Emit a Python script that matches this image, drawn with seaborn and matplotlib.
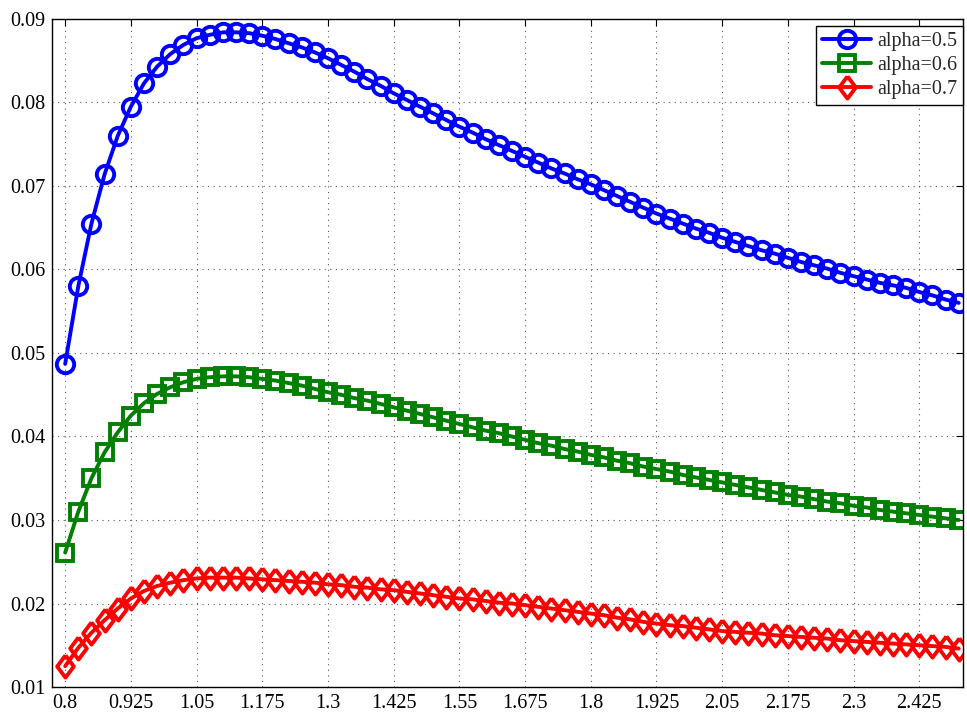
import matplotlib
matplotlib.use("Agg")
import matplotlib.pyplot as plt
import seaborn as sns

x = [0.8, 0.825, 0.85, 0.875, 0.9, 0.925, 0.95, 0.975, 1.0, 1.025,
     1.05, 1.075, 1.1, 1.125, 1.15, 1.175, 1.2, 1.225, 1.25, 1.275,
     1.3, 1.325, 1.35, 1.375, 1.4, 1.425, 1.45, 1.475, 1.5, 1.525,
     1.55, 1.575, 1.6, 1.625, 1.65, 1.675, 1.7, 1.725, 1.75, 1.775,
     1.8, 1.825, 1.85, 1.875, 1.9, 1.925, 1.95, 1.975, 2.0, 2.025,
     2.05, 2.075, 2.1, 2.125, 2.15, 2.175, 2.2, 2.225, 2.25, 2.275,
     2.3, 2.325, 2.35, 2.375, 2.4, 2.425, 2.45, 2.475, 2.5]

alpha_05 = [0.0487, 0.0580, 0.0655, 0.0714, 0.0760, 0.0795, 0.0823, 0.0843, 0.0858, 0.0869,
            0.0877, 0.0881, 0.0884, 0.0884, 0.0883, 0.0880, 0.0876, 0.0871, 0.0866, 0.0860,
            0.0853, 0.0845, 0.0837, 0.0828, 0.0820, 0.0811, 0.0803, 0.0795, 0.0787, 0.0779,
            0.0771, 0.0764, 0.0756, 0.0749, 0.0742, 0.0735, 0.0728, 0.0721, 0.0715, 0.0708,
            0.0702, 0.0695, 0.0688, 0.0681, 0.0674, 0.0667, 0.0661, 0.0655, 0.0649, 0.0644,
            0.0638, 0.0633, 0.0628, 0.0623, 0.0619, 0.0614, 0.0609, 0.0605, 0.0601, 0.0596,
            0.0592, 0.0588, 0.0584, 0.0581, 0.0578, 0.0573, 0.0569, 0.0564, 0.0560]

alpha_06 = [0.0261, 0.0310, 0.0350, 0.0381, 0.0405, 0.0425, 0.0440, 0.0451, 0.0459, 0.0465,
            0.0469, 0.0471, 0.0472, 0.0472, 0.0471, 0.0469, 0.0467, 0.0464, 0.0461, 0.0457,
            0.0453, 0.0450, 0.0446, 0.0443, 0.0439, 0.0435, 0.0431, 0.0427, 0.0423, 0.0419,
            0.0415, 0.0411, 0.0407, 0.0404, 0.0400, 0.0396, 0.0392, 0.0389, 0.0385, 0.0382,
            0.0378, 0.0375, 0.0371, 0.0368, 0.0364, 0.0361, 0.0358, 0.0354, 0.0351, 0.0348,
            0.0345, 0.0342, 0.0339, 0.0336, 0.0333, 0.0330, 0.0328, 0.0325, 0.0322, 0.0320,
            0.0317, 0.0315, 0.0312, 0.0310, 0.0308, 0.0306, 0.0304, 0.0302, 0.0300]

alpha_07 = [0.0125, 0.0147, 0.0165, 0.0180, 0.0194, 0.0206, 0.0215, 0.0221, 0.0225, 0.0228,
            0.0230, 0.0231, 0.0231, 0.0231, 0.0230, 0.0229, 0.0228, 0.0227, 0.0226, 0.0225,
            0.0223, 0.0222, 0.0220, 0.0219, 0.0217, 0.0216, 0.0214, 0.0212, 0.0210, 0.0208,
            0.0206, 0.0205, 0.0203, 0.0201, 0.0200, 0.0198, 0.0196, 0.0194, 0.0192, 0.0190,
            0.0188, 0.0186, 0.0183, 0.0181, 0.0178, 0.0176, 0.0174, 0.0173, 0.0171, 0.0169,
            0.0167, 0.0166, 0.0165, 0.0164, 0.0162, 0.0161, 0.0160, 0.0159, 0.0158, 0.0156,
            0.0155, 0.0154, 0.0153, 0.0152, 0.0151, 0.0150, 0.0149, 0.0148, 0.0146]

labels = ["alpha=0.5", "alpha=0.6", "alpha=0.7"]
colors = ["#0000ff", "#008000", "#ff0000"]
xticks = [0.8, 0.925, 1.05, 1.175, 1.3, 1.425, 1.55, 1.675, 1.8, 1.925, 2.05, 2.175, 2.3, 2.425]
xticklabels = ["0.8", "0.925", "1.05", "1.175", "1.3", "1.425", "1.55", "1.675",
               "1.8", "1.925", "2.05", "2.175", "2.3", "2.425"]
yticks = [0.01, 0.02, 0.03, 0.04, 0.05, 0.06, 0.07, 0.08, 0.09]

sns.set_style("white")
plt.rcParams["font.family"] = ["Liberation Serif", "DejaVu Serif"]

# MATLAB style diamond (taller than wide)
diamond = [(0, 1), (0.75, 0), (0, -1), (-0.75, 0), (0, 1)]
markers = ["o", "s", diamond]
sizes = [12.5, 11.5, 16]

fig = plt.figure(figsize=(9.67, 7.19), dpi=100)
ax = fig.add_axes([0.0538, 0.0445, 0.942, 0.9291])

for vals, lab, col, mk, ms in zip([alpha_05, alpha_06, alpha_07], labels, colors, markers, sizes):
    sns.lineplot(x=x, y=vals, ax=ax, color=col, label=lab, linewidth=2.8,
                 marker=mk, markersize=ms, markerfacecolor="none",
                 markeredgecolor=col, markeredgewidth=2.8)

ax.set_xlim(0.775, 2.508)
ax.set_ylim(0.01, 0.09)
ax.set_xticks(xticks)
ax.set_xticklabels(xticklabels)
ax.set_yticks(yticks)
ax.set_yticklabels([f"{v:.2f}" for v in yticks])
ax.tick_params(direction="in", top=True, right=True, length=5, width=0.8,
               labelsize=14.5, colors="black", pad=5)
ax.grid(True, linestyle=(0, (1, 4)), linewidth=0.8, color="0.35")
for sp in ax.spines.values():
    sp.set_color("black")
    sp.set_linewidth(1.0)

leg = ax.legend(loc="upper right", bbox_to_anchor=(1.0, 1 - 7 / 668), borderaxespad=0,
                fontsize=14.5, handlelength=2.4, labelspacing=0.25, borderpad=0.3,
                handletextpad=0.3, fancybox=False, framealpha=1, edgecolor="black")
leg.get_frame().set_linewidth(1.0)

fig.savefig("out.png", dpi=100)
